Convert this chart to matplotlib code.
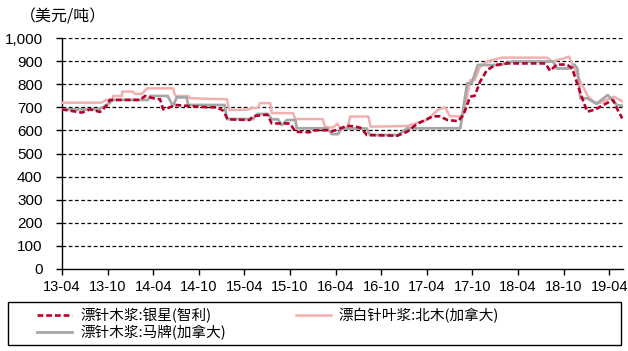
import matplotlib
matplotlib.use("Agg")
import matplotlib.pyplot as plt
from matplotlib.patches import Rectangle
from matplotlib.ticker import FuncFormatter, MultipleLocator

# months since 2013-04
tick_labels = ["13-04", "13-10", "14-04", "14-10", "15-04", "15-10", "16-04",
               "16-10", "17-04", "17-10", "18-04", "18-10", "19-04"]

# 漂白针叶浆:北木(加拿大)
beimu_m = [0, 5.2, 5.8, 6.7, 6.7, 7.9, 7.9, 9.3, 9.6, 10.5, 11.2, 14.6, 14.9, 16.6,
           16.8, 18.8, 21.7, 22.0, 24.5, 25.0, 25.8, 26.0, 27.4, 27.6, 30.4, 30.7,
           34.3, 34.6, 35.6, 36.2, 36.6, 37.6, 37.9, 40.3, 40.6, 45.4, 48.0, 49.5,
           50.4, 51.0, 52.4, 52.9, 53.7, 54.3, 55.0, 56.0, 57.9, 63.8, 64.5, 66.7,
           67.3, 68.3, 69.2, 70.0, 70.6, 72.6, 73.8]
beimu_v = [720, 720, 732, 732, 749, 749, 768, 768, 758, 758, 782, 782, 749, 749,
           740, 737, 735, 688, 690, 697, 697, 718, 718, 675, 675, 649,
           649, 615, 612, 628, 612, 614, 660, 660, 616, 619, 645, 690,
           700, 662, 660, 675, 818, 818, 876, 900, 915, 915, 898, 919,
           876, 804, 746, 724, 717, 746, 724]

# 漂针木浆:马牌(加拿大)
mapai_m = [0, 4.7, 5.4, 6.3, 6.7, 11.3, 11.6, 13.9, 14.6, 15.1, 16.4, 16.6, 21.4,
           21.7, 25.1, 25.7, 27.1, 27.6, 28.4, 28.9, 29.6, 30.7, 30.9, 34.9, 35.5,
           36.3, 36.8, 40.1, 40.5, 44.2, 45.4, 52.4, 53.3, 53.9, 54.7, 57.6, 59.2,
           64.6, 65.1, 67.0, 67.4, 67.8, 68.2, 69.1, 70.3, 71.8, 73.0, 73.8]
mapai_v = [691, 691, 700, 720, 732, 732, 749, 749, 706, 743, 743, 710, 710,
           649, 649, 671, 671, 648, 648, 623, 645, 645, 609, 609, 584,
           584, 608, 608, 580, 580, 609, 609, 804, 804, 883, 883, 898,
           898, 868, 868, 885, 868, 739, 739, 715, 753, 710, 706]

# 漂针木浆:银星(智利)
yinxing_m = [0, 2.6, 3.7, 5.0, 5.4, 5.9, 6.3, 10.3, 10.9, 12.5, 12.9, 13.3, 13.8,
             14.9, 19.1, 20.4, 21.2, 21.8, 24.7, 25.1, 27.0, 27.6, 30.0, 30.7, 32.6,
             33.0, 34.9, 35.5, 36.2, 37.5, 38.3, 39.2, 39.6, 40.1, 44.1, 45.4, 46.7,
             48.8, 49.7, 50.7, 52.1, 52.8, 53.7, 54.3, 55.0, 55.9, 57.0, 58.6, 63.6,
             64.2, 65.1, 66.4, 67.1, 67.9, 68.6, 69.1, 70.1, 71.2, 72.5, 73.0, 73.7]
yinxing_v = [691, 677, 691, 680, 691, 710, 732, 732, 749, 735, 735, 691, 695,
             710, 700, 700, 685, 648, 645, 662, 668, 630, 630, 594, 592,
             600, 601, 596, 603, 620, 618, 612, 600, 580, 577, 594, 628,
             661, 661, 645, 640, 667, 746, 750, 811, 861, 883, 890, 890,
             858, 885, 885, 870, 790, 724, 681, 690, 710, 732, 695, 652]

cjk = ["Noto Sans CJK SC", "DejaVu Sans"]
num_font = ["Liberation Sans Narrow", "Liberation Sans", "DejaVu Sans"]

W, H = 628, 351
fig = plt.figure(figsize=(W / 100, H / 100), dpi=100)
ax = fig.add_axes([62 / W, 1 - 269 / H, (623 - 62) / W, (269 - 38) / H])

l_pink, = ax.plot(beimu_m, beimu_v, color="#F2AFAF", lw=1.8, zorder=3,
                  label="漂白针叶浆:北木(加拿大)")
l_gray, = ax.plot(mapai_m, mapai_v, color="#A6A6A6", lw=2.0, zorder=4,
                  label="漂针木浆:马牌(加拿大)")
l_red, = ax.plot(yinxing_m, yinxing_v, color="#B8002A", lw=1.9, zorder=5,
                 dashes=(2.2, 1.1), label="漂针木浆:银星(智利)")

ax.set_xlim(0, 73.8)
ax.set_ylim(0, 1000)
ax.yaxis.set_major_locator(MultipleLocator(100))
ax.yaxis.set_major_formatter(FuncFormatter(lambda v, p: f"{int(v):,}"))
ax.set_xticks([6 * i for i in range(len(tick_labels))])
ax.set_xticklabels(tick_labels)

for y in range(100, 1001, 100):
    ax.axhline(y, color="black", lw=0.9, ls=(0, (3, 2)), zorder=1)

for s in ["top", "right"]:
    ax.spines[s].set_visible(False)
for s in ["left", "bottom"]:
    ax.spines[s].set_color("black")
    ax.spines[s].set_linewidth(1.0)
ax.tick_params(axis="both", direction="out", length=4, width=1, color="black",
               labelsize=10.5)
ax.tick_params(axis="y", pad=10, labelsize=11)
ax.tick_params(axis="x", pad=4)
for lab in ax.get_xticklabels() + ax.get_yticklabels():
    lab.set_family(num_font)

fig.text(20 / W, 1 - 17 / H, "（美元/吨）", family=cjk, fontsize=11.5,
         va="center", ha="left")

# legend frame
fig.patches.append(Rectangle((8 / W, 1 - 345 / H), (621 - 8) / W, (345 - 302) / H,
                             transform=fig.transFigure, fill=False,
                             edgecolor="black", lw=1.0))
fs = 10.5
px_per_em = fs * 100 / 72
leg = fig.legend(handles=[l_red, l_gray, l_pink], ncol=2,
                 loc="upper left", bbox_to_anchor=(37 / W, 1 - 308 / H),
                 frameon=False, prop={"family": cjk, "size": fs},
                 handlelength=35 / px_per_em, handletextpad=8 / px_per_em,
                 columnspacing=70 / px_per_em, borderaxespad=0, borderpad=0,
                 labelspacing=0.1)

fig.savefig("out.png", dpi=100)
